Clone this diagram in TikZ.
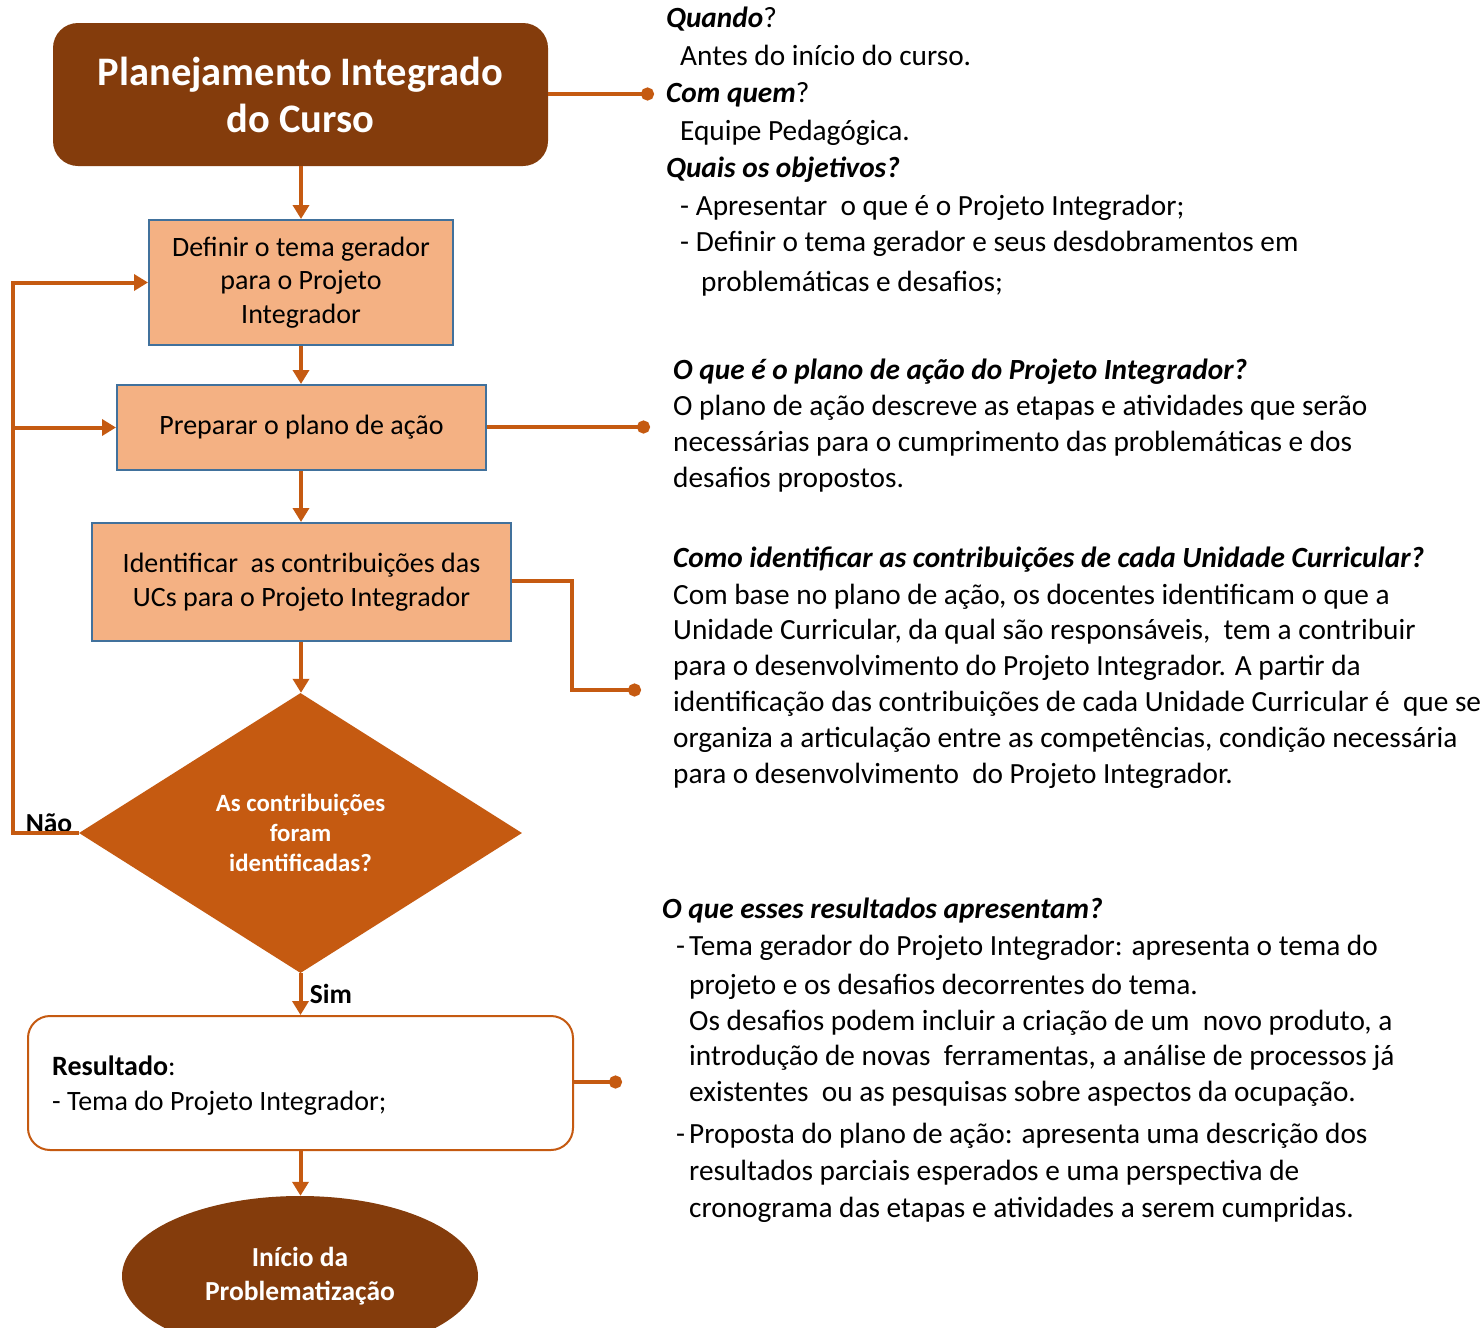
\documentclass[tikz,border=0pt]{standalone}
\usepackage{fontspec}
\setmainfont{Carlito}
\usetikzlibrary{shapes.geometric,arrows.meta}
\definecolor{darkbrn}{HTML}{843C0C}
\definecolor{orng}{HTML}{C55A11}
\definecolor{peach}{HTML}{F4B183}
\definecolor{bluebd}{HTML}{41719C}
\begin{document}
\begin{tikzpicture}[x=1pt,y=-1pt,
  conn/.style={draw=orng, line width=4pt},
  arr/.style={conn, -{Triangle[length=14pt,width=16pt]}},
  dotend/.style={conn, -{Circle[length=13pt]}},
  procbox/.style={rectangle, fill=peach, draw=bluebd, line width=2pt, font=\fontsize{28}{33.5}\selectfont, align=center, inner sep=0pt},
  txt/.style={anchor=west, inner sep=0pt, yshift=-7pt, font=\fontsize{29.3}{34}\selectfont, text height=0.75em, text depth=0.25em},
  lbl/.style={inner sep=0pt, font=\fontsize{27.5}{30}\selectfont\bfseries},
]
\useasboundingbox (0,0) rectangle (1484,1328);
\fill[white] (0,0) rectangle (1484,1328);

% flow nodes
\node[rectangle, rounded corners=25pt, fill=darkbrn, minimum width=495pt, minimum height=143pt, inner sep=0pt,
  text=white, align=center, font=\fontsize{40.5}{47}\selectfont\bfseries] (title) at (300.5,94.5) {Planejamento Integrado\\do Curso};
\node[procbox, minimum width=304pt, minimum height=125pt] (b1) at (301,282.5) {Definir o tema gerador\\para o Projeto\\Integrador};
\node[procbox, minimum width=369pt, minimum height=85pt] (b2) at (301.5,427.5) {Preparar o plano de ação};
\node[procbox, minimum width=419pt, minimum height=118pt] (b3) at (301.5,582) {Identificar\ \ as contribuições das\\UCs para o Projeto Integrador};
\node[diamond, fill=orng, minimum width=443pt, minimum height=280pt, inner sep=0pt, text=white, align=center,
  font=\fontsize{24.8}{30}\selectfont\bfseries] (dia) at (300.5,833) {As contribuições\\foram\\identificadas?};
\node[rectangle, rounded corners=22pt, draw=orng, line width=2pt, fill=white, minimum width=545pt, minimum height=134pt] (res) at (300.5,1083) {};
\node[anchor=west, inner sep=0pt, align=left, font=\fontsize{28}{35}\selectfont] (restxt) at (52,1086) {\textbf{Resultado}:\\- Tema do Projeto Integrador;};
\node[ellipse, fill=darkbrn, minimum width=356pt, minimum height=160pt, inner sep=0pt, text=white, align=center,
  font=\fontsize{27.5}{34}\selectfont\bfseries] (ell) at (300,1276) {Início da\\Problematização};

% labels
\node[lbl] (nao) at (49,823) {Não};
\node[lbl] (sim) at (331,994) {Sim};

% coordinates
\coordinate (nL) at (13,833);
\coordinate (nT) at (13,282.5);
\coordinate (nM) at (13,427.5);
\coordinate (d1) at (654,94);
\coordinate (d2) at (650,427);
\coordinate (c3a) at (572,581);
\coordinate (c3b) at (572,690);
\coordinate (d3) at (641,690);
\coordinate (d4) at (622,1082);

% connectors
\draw[arr] (title.south -| b1.north) -- (b1.north);
\draw[arr] (b1.south) -- (b1.south |- b2.north);
\draw[arr] (b1.south |- b2.south) -- (b1.south |- b3.north);
\draw[arr] (b1.south |- b3.south) -- (dia.north -| b1.south);
\draw[arr] (dia.south) -- (dia.south |- res.north);
\draw[arr] (res.south -| dia.south) -- (ell.north -| dia.south);
\draw[arr] (dia.west) -- (nL) -- (nT) -- (b1.west);
\draw[arr] (nM) -- (b2.west);
\draw[dotend] (title.east |- d1) -- (d1);
\draw[dotend] (b2.east |- d2) -- (d2);
\draw[dotend] (b3.east |- c3a) -- (c3a) -- (c3b) -- (d3);
\draw[dotend] (res.east |- d4) -- (d4);

% right text, block 1
\node[txt] (q1) at (666,18) {\textbf{\textit{Quando}}?};
\node[txt] (q1a) at (680,56) {Antes do início do curso.};
\node[txt] (q2) at (666,93) {\textbf{\textit{Com quem}}?};
\node[txt] (q2a) at (680,131) {Equipe Pedagógica.};
\node[txt] (q3) at (666,168) {\textbf{\textit{Quais os objetivos?}}};
\node[txt] (q3a) at (680,206) {- Apresentar\ \ o que é o Projeto Integrador;};
\node[txt] (q3b) at (680,242) {- Definir o tema gerador e seus desdobramentos em};
\node[txt] (q3c) at (701,282) {problemáticas e desafios;};

% block 2
\node[txt] (p1) at (673,370) {\textbf{\textit{O que é o plano de ação do Projeto Integrador?}}};
\node[txt] (p2) at (673,406) {O plano de ação descreve as etapas e atividades que serão};
\node[txt] (p3) at (673,442) {necessárias para o cumprimento das problemáticas e dos};
\node[txt] (p4) at (673,478) {desafios propostos.};

% block 3
\node[txt] (c1) at (673,558) {\textbf{\textit{Como identificar as contribuições de cada Unidade Curricular?}}};
\node[txt] (c2) at (673,595) {Com base no plano de ação, os docentes identificam o que a};
\node[txt] (c3) at (673,630) {Unidade Curricular, da qual são responsáveis,\ \ tem a contribuir};
\node[txt] (c4) at (673,666) {para o desenvolvimento do Projeto Integrador. A partir da};
\node[txt] (c5) at (673,702) {identificação das contribuições de cada Unidade Curricular é\ \ que se};
\node[txt] (c6) at (673,738) {organiza a articulação entre as competências, condição necessária};
\node[txt] (c7) at (673,774) {para o desenvolvimento\ \ do Projeto Integrador.};

% block 4
\node[txt] (r1) at (662,909) {\textbf{\textit{O que esses resultados apresentam?}}};
\node[txt] (r2d) at (676,946) {-};
\node[txt] (r2) at (689,946) {Tema gerador do Projeto Integrador: apresenta o tema do};
\node[txt] (r3) at (689,985) {projeto e os desafios decorrentes do tema.};
\node[txt] (r4) at (689,1021) {Os desafios podem incluir a criação de um\ \ novo produto, a};
\node[txt] (r5) at (689,1056) {introdução de novas\ \ ferramentas, a análise de processos já};
\node[txt] (r6) at (689,1092) {existentes\ \ ou as pesquisas sobre aspectos da ocupação.};
\node[txt] (r7d) at (676,1134) {-};
\node[txt] (r7) at (689,1134) {Proposta do plano de ação: apresenta uma descrição dos};
\node[txt] (r8) at (689,1171) {resultados parciais esperados e uma perspectiva de};
\node[txt] (r9) at (689,1208) {cronograma das etapas e atividades a serem cumpridas.};
\end{tikzpicture}
\end{document}
